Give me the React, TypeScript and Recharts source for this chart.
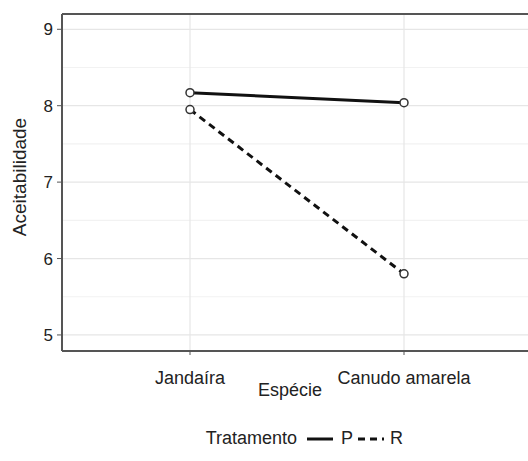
import React from "react";
import {
	CartesianGrid,
	Legend,
	Line,
	LineChart,
	ReferenceLine,
	XAxis,
	YAxis,
} from "recharts";

const especies = ["Jandaíra", "Canudo amarela"];
const valoresP = [8.17, 8.04];
const valoresR = [7.95, 5.8];
const yTicks = [5, 6, 7, 8, 9];
const yMinor = [5.5, 6.5, 7.5, 8.5];
const yMin = 4.79;
const yMax = 9.2;

const data = especies.map((especie, i) => ({
	especie,
	P: valoresP[i],
	R: valoresR[i],
}));

const FONT = "'Liberation Sans', Arial, sans-serif";
const AXIS = "#555555";
const TEXT = "#222222";

const TituloY = () => (
	<text
		x={26}
		y={177}
		transform="rotate(-90, 26, 177)"
		textAnchor="middle"
		fontFamily={FONT}
		fontSize={19}
		fill={TEXT}
	>
		Aceitabilidade
	</text>
);

const TituloX = () => (
	<text
		x={290}
		y={396}
		textAnchor="middle"
		fontFamily={FONT}
		fontSize={18}
		fill={TEXT}
	>
		Espécie
	</text>
);

const Legenda = () => (
	<svg width={528} height={30} style={{ display: "block" }}>
		<g fontFamily={FONT} fontSize={18} fill={TEXT}>
			<text x={297} y={19} textAnchor="end">
				Tratamento
			</text>
			<line x1={307} x2={333} y1={14} y2={14} stroke="#111" strokeWidth={3} />
			<text x={341} y={19}>
				P
			</text>
			<line
				x1={358}
				x2={384}
				y1={14}
				y2={14}
				stroke="#111"
				strokeWidth={3}
				strokeDasharray="7 5"
			/>
			<text x={390} y={19}>
				R
			</text>
		</g>
	</svg>
);

const dot = {
	r: 4,
	fill: "#fff",
	stroke: "#333",
	strokeWidth: 1.5,
	strokeDasharray: "none",
};

export default function App() {
	return (
		<div
			style={{
				position: "fixed",
				left: 0,
				top: 0,
				width: 528,
				height: 461,
				overflow: "hidden",
				background: "#fff",
			}}
		>
			<LineChart
				width={540}
				height={461}
				data={data}
				margin={{ top: 14, right: 8, bottom: 6, left: 0 }}
			>
				<CartesianGrid
					vertical={false}
					horizontalValues={yMinor}
					stroke="#f2f2f2"
					strokeWidth={1.2}
				/>
				<CartesianGrid
					horizontalValues={yTicks}
					stroke="#e6e6e6"
					strokeWidth={1.2}
				/>
				<XAxis
					dataKey="especie"
					scale="point"
					padding={{ left: 128, right: 128 }}
					interval={0}
					height={74}
					tickSize={4}
					tickMargin={16}
					axisLine={{ stroke: AXIS, strokeWidth: 2 }}
					tickLine={{ stroke: AXIS }}
					tick={{ fontFamily: FONT, fontSize: 18, fill: TEXT }}
					label={{ content: () => <TituloX /> }}
				/>
				<YAxis
					domain={[yMin, yMax]}
					ticks={yTicks}
					allowDataOverflow
					width={62}
					tickSize={5}
					tickMargin={4}
					axisLine={{ stroke: AXIS, strokeWidth: 2 }}
					tickLine={{ stroke: AXIS }}
					tick={{ fontFamily: FONT, fontSize: 17, fill: TEXT }}
					label={{ content: () => <TituloY /> }}
				/>
				<ReferenceLine y={yMax} stroke={AXIS} strokeWidth={2} />
				<Legend verticalAlign="bottom" height={30} content={() => <Legenda />} />
				<Line
					dataKey="P"
					stroke="#111"
					strokeWidth={3}
					dot={dot}
					activeDot={false}
					isAnimationActive={false}
				/>
				<Line
					dataKey="R"
					stroke="#111"
					strokeWidth={3}
					strokeDasharray="7 5"
					dot={dot}
					activeDot={false}
					isAnimationActive={false}
				/>
			</LineChart>
		</div>
	);
}
